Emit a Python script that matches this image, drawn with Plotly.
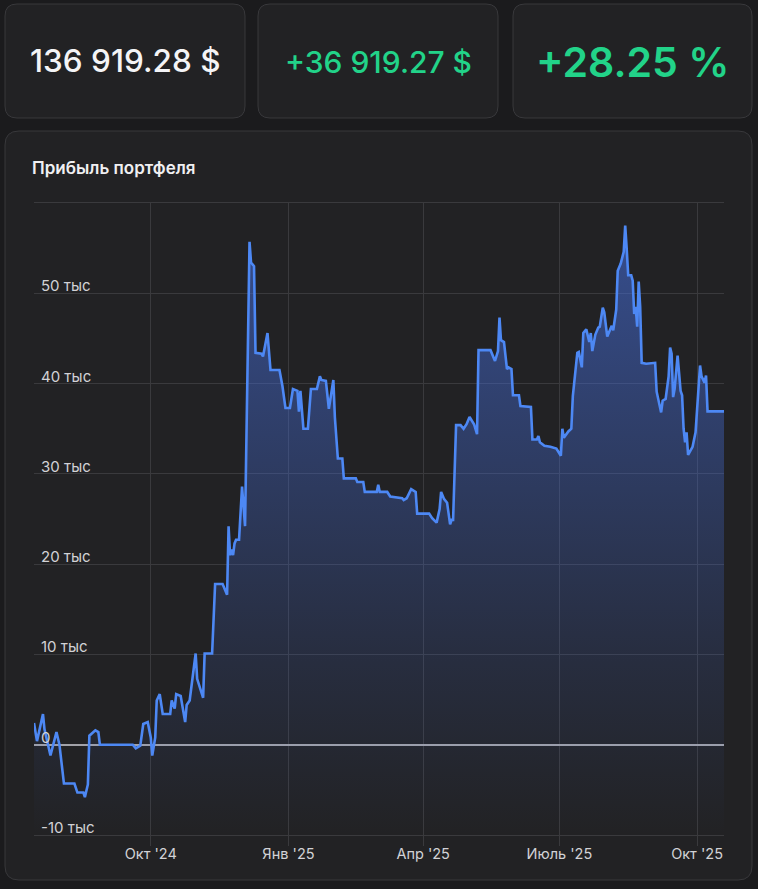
import plotly.graph_objects as go

# ---------------- data ----------------
dates = [
    "2024-07-15", "2024-07-17", "2024-07-21", "2024-07-22", "2024-07-26", "2024-07-30",
    "2024-08-01", "2024-08-04", "2024-08-11", "2024-08-13", "2024-08-17", "2024-08-18",
    "2024-08-20", "2024-08-21", "2024-08-25", "2024-08-27", "2024-08-28", "2024-09-19",
    "2024-09-21", "2024-09-24", "2024-09-26", "2024-09-29", "2024-10-01", "2024-10-02",
    "2024-10-04", "2024-10-05", "2024-10-07", "2024-10-09", "2024-10-14", "2024-10-15",
    "2024-10-17", "2024-10-18", "2024-10-21", "2024-10-24", "2024-10-25", "2024-10-27",
    "2024-10-31", "2024-11-01", "2024-11-05", "2024-11-06", "2024-11-11", "2024-11-13",
    "2024-11-18", "2024-11-21", "2024-11-22", "2024-11-23", "2024-11-24", "2024-11-25",
    "2024-11-26", "2024-11-27", "2024-11-29", "2024-12-01", "2024-12-03", "2024-12-06",
    "2024-12-07", "2024-12-09", "2024-12-10", "2024-12-14", "2024-12-15", "2024-12-18",
    "2024-12-20", "2024-12-26", "2024-12-28", "2024-12-30", "2025-01-02", "2025-01-04",
    "2025-01-07", "2025-01-08", "2025-01-09", "2025-01-11", "2025-01-14", "2025-01-16",
    "2025-01-20", "2025-01-22", "2025-01-23", "2025-01-26", "2025-01-28", "2025-01-31",
    "2025-02-01", "2025-02-03", "2025-02-06", "2025-02-07", "2025-02-15", "2025-02-16",
    "2025-02-20", "2025-02-21", "2025-03-01", "2025-03-02", "2025-03-03", "2025-03-08",
    "2025-03-10", "2025-03-18", "2025-03-19", "2025-03-21", "2025-03-24", "2025-03-27",
    "2025-03-28", "2025-04-05", "2025-04-07", "2025-04-10", "2025-04-12", "2025-04-13",
    "2025-04-15", "2025-04-17", "2025-04-19", "2025-04-20", "2025-04-21", "2025-04-23",
    "2025-04-26", "2025-04-28", "2025-04-30", "2025-05-02", "2025-05-05", "2025-05-07",
    "2025-05-08", "2025-05-16", "2025-05-19", "2025-05-21", "2025-05-22", "2025-05-23",
    "2025-05-25", "2025-05-27", "2025-05-28", "2025-05-30", "2025-05-31", "2025-06-04",
    "2025-06-05", "2025-06-12", "2025-06-13", "2025-06-16", "2025-06-17", "2025-06-18",
    "2025-06-21", "2025-06-25", "2025-06-29", "2025-07-02", "2025-07-03", "2025-07-04",
    "2025-07-07", "2025-07-09", "2025-07-10", "2025-07-12", "2025-07-13", "2025-07-14",
    "2025-07-16", "2025-07-17", "2025-07-19", "2025-07-21", "2025-07-22", "2025-07-23",
    "2025-07-25", "2025-07-27", "2025-07-28", "2025-07-30", "2025-07-31", "2025-08-02",
    "2025-08-05", "2025-08-06", "2025-08-08", "2025-08-09", "2025-08-11", "2025-08-13",
    "2025-08-14", "2025-08-15", "2025-08-16", "2025-08-18", "2025-08-19", "2025-08-20",
    "2025-08-21", "2025-08-22", "2025-08-23", "2025-08-24", "2025-08-25", "2025-08-28",
    "2025-09-03", "2025-09-04", "2025-09-07", "2025-09-08", "2025-09-10", "2025-09-12",
    "2025-09-13", "2025-09-14", "2025-09-15", "2025-09-16", "2025-09-18", "2025-09-20",
    "2025-09-21", "2025-09-22", "2025-09-23", "2025-09-24", "2025-09-25", "2025-09-28",
    "2025-09-30", "2025-10-03", "2025-10-04", "2025-10-06", "2025-10-07", "2025-10-08",
    "2025-10-19",
]

profit = [
    2400, 400, 3400, 1700, -1200, 1400,
    0, -4300, -4300, -5300, -5300, -5800,
    -4400, 1000, 1600, 1400, 0, 0,
    -400, -100, 2300, 2500, 800, -1200,
    800, 4900, 5600, 3400, 3400, 4900,
    4000, 5600, 5400, 2500, 4400, 4900,
    10100, 7300, 5200, 10100, 10100, 17800,
    17800, 16600, 24200, 21000, 21600, 21000,
    22300, 22700, 22700, 28600, 24200, 55700,
    53400, 53000, 43400, 43300, 43000, 45600,
    41500, 41500, 39700, 37300, 37300, 39400,
    39200, 36900, 39200, 35000, 35000, 39400,
    39400, 40800, 40400, 40300, 37200, 40400,
    36300, 31700, 31700, 29500, 29500, 29100,
    29100, 28000, 28000, 28800, 28000, 28000,
    27500, 27300, 27100, 27300, 28300, 28000,
    25600, 25600, 25100, 24600, 26100, 28000,
    27200, 26800, 24400, 24900, 24900, 35400,
    35400, 35000, 35500, 36300, 35500, 34400,
    43700, 43700, 42500, 43600, 47300, 44800,
    44600, 41600, 41800, 41600, 38700, 38700,
    37500, 37400, 33800, 33800, 34200, 33500,
    33100, 33000, 32800, 32000, 35000, 34000,
    34700, 35000, 38600, 42300, 43400, 43500,
    41800, 45600, 46000, 44600, 45600, 43600,
    45400, 46200, 46300, 48400, 47900, 45200,
    46400, 45900, 48200, 52500, 53300, 54600,
    57500, 54900, 52000, 52000, 51400, 47700,
    48500, 46300, 51300, 48500, 42300, 42200,
    42300, 39100, 36800, 38100, 38300, 40800,
    44000, 43300, 38500, 39400, 43100, 39200,
    38700, 35000, 33500, 34600, 32100, 33000,
    34600, 42000, 40800, 40100, 40900, 36919.27,
    36919.27,
]

card_values = ["136 919.28 $", "+36 919.27 $", "+28.25 %"]
chart_title = "Прибыль портфеля"

y_min, y_max = -10000, 60000
y_tickvals = [-10000, 0, 10000, 20000, 30000, 40000, 50000]
y_ticktext = ["-10 тыс", "0", "10 тыс", "20 тыс", "30 тыс", "40 тыс", "50 тыс"]

x_range = ["2024-07-15", "2025-10-19"]
x_tickvals = ["2024-10-01", "2025-01-01", "2025-04-01", "2025-07-01", "2025-10-01"]
x_ticktext = ["Окт '24", "Янв '25", "Апр '25", "Июль '25", "Окт '25"]

# ---------------- styling ----------------
W, H = 758, 889
ML, MR, MT, MB = 34, 34, 203, 54
PW, PH = W - ML - MR, H - MT - MB

PAGE_BG = "#1b1b1d"
CARD_BG = "#222224"
CARD_BORDER = "#38383b"
GRID = "#3a3a3d"
LINE = "#4d88f4"
GREEN = "#22d389"
TEXT = "#d2d2d6"
FONT = "Inter, Roboto, 'Noto Sans', sans-serif"


def px(x):
    return (x - ML) / PW


def py(y):
    return (H - MB - y) / PH


def rounded_rect(x0, y0, x1, y1, r):
    rx, ry = r / PW, r / PH
    X0, X1 = px(x0), px(x1)
    Y0, Y1 = py(y0), py(y1)  # Y0 is top (larger)
    return (
        f"M {X0 + rx},{Y0} L {X1 - rx},{Y0} Q {X1},{Y0} {X1},{Y0 - ry} "
        f"L {X1},{Y1 + ry} Q {X1},{Y1} {X1 - rx},{Y1} "
        f"L {X0 + rx},{Y1} Q {X0},{Y1} {X0},{Y1 + ry} "
        f"L {X0},{Y0 - ry} Q {X0},{Y0} {X0 + rx},{Y0} Z"
    )


fig = go.Figure()

# baseline at the bottom of the axis so the fill reaches the bottom
fig.add_trace(go.Scatter(
    x=[dates[0], dates[-1]], y=[y_min, y_min], mode="lines",
    line=dict(width=0, color="rgba(0,0,0,0)"), hoverinfo="skip", showlegend=False,
))
fig.add_trace(go.Scatter(
    x=dates, y=profit, mode="lines",
    line=dict(color=LINE, width=2.6, shape="linear"),
    fill="tonexty",
    fillgradient=dict(
        type="vertical",
        colorscale=[[0, "rgba(70,112,225,0.0)"], [0.3, "rgba(70,112,225,0.15)"],
                    [1, "rgba(70,112,225,0.56)"]],
    ),
    showlegend=False,
    hovertemplate="%{x|%d.%m.%Y}: %{y:,.2f} $<extra></extra>",
))

shapes = []
cards = [(5, 4, 245, 118), (258, 4, 498, 118), (513, 4, 752, 118)]
for (x0, y0, x1, y1) in cards:
    shapes.append(dict(type="path", xref="paper", yref="paper", layer="below",
                       path=rounded_rect(x0, y0, x1, y1, 12),
                       fillcolor=CARD_BG, line=dict(color=CARD_BORDER, width=1)))
shapes.append(dict(type="path", xref="paper", yref="paper", layer="below",
                   path=rounded_rect(5, 131, 752, 880, 14),
                   fillcolor=CARD_BG, line=dict(color=CARD_BORDER, width=1)))

annotations = []
card_styles = [
    dict(color="#f4f4f6", size=31.5, weight=500, dy=0),
    dict(color=GREEN, size=30, weight=500, dy=1),
    dict(color=GREEN, size=41, weight=600, dy=1),
]
for (x0, y0, x1, y1), txt, st in zip(cards, card_values, card_styles):
    annotations.append(dict(
        xref="paper", yref="paper", x=px((x0 + x1) / 2), y=py((y0 + y1) / 2 + st["dy"]),
        xanchor="center", yanchor="middle", showarrow=False, text=txt,
        font=dict(family=FONT, size=st["size"], color=st["color"], weight=st["weight"]),
    ))
annotations.append(dict(
    xref="paper", yref="paper", x=px(30), y=py(168), xanchor="left", yanchor="middle",
    showarrow=False, text=chart_title,
    font=dict(family=FONT, size=17, color="#f0f0f2", weight=600),
))

# y-axis labels drawn inside the plot, sitting just above their gridlines
for val, txt in zip(y_tickvals, y_ticktext):
    annotations.append(dict(
        xref="paper", yref="y", x=px(39), y=val, xanchor="left", yanchor="bottom",
        yshift=-4, showarrow=False, text=txt,
        font=dict(family=FONT, size=15, color=TEXT),
    ))

fig.update_layout(
    width=W, height=H,
    margin=dict(l=ML, r=MR, t=MT, b=MB, pad=0),
    paper_bgcolor=PAGE_BG,
    plot_bgcolor="rgba(0,0,0,0)",
    font=dict(family=FONT, color=TEXT, size=14),
    shapes=shapes,
    annotations=annotations,
    showlegend=False,
    xaxis=dict(
        type="date", range=x_range,
        tickvals=x_tickvals, ticktext=x_ticktext,
        showgrid=True, gridcolor=GRID, gridwidth=1,
        ticks="outside", ticklen=10, tickcolor=GRID, tickwidth=1,
        ticklabelstandoff=-4,
        showline=True, mirror=True, linecolor=GRID, linewidth=1,
        zeroline=False, tickfont=dict(size=14.5, color=TEXT),
        fixedrange=True,
    ),
    yaxis=dict(
        range=[y_min, y_max],
        tickvals=y_tickvals, showticklabels=False,
        showgrid=True, gridcolor=GRID, gridwidth=1,
        zeroline=True, zerolinecolor="#a2a2a8", zerolinewidth=2,
        showline=False, ticks="",
        fixedrange=True,
    ),
)

fig.write_html(
    "out.html",
    config={"displayModeBar": False},
    post_script="document.body.style.margin='0';document.body.style.background='#1b1b1d';",
)
